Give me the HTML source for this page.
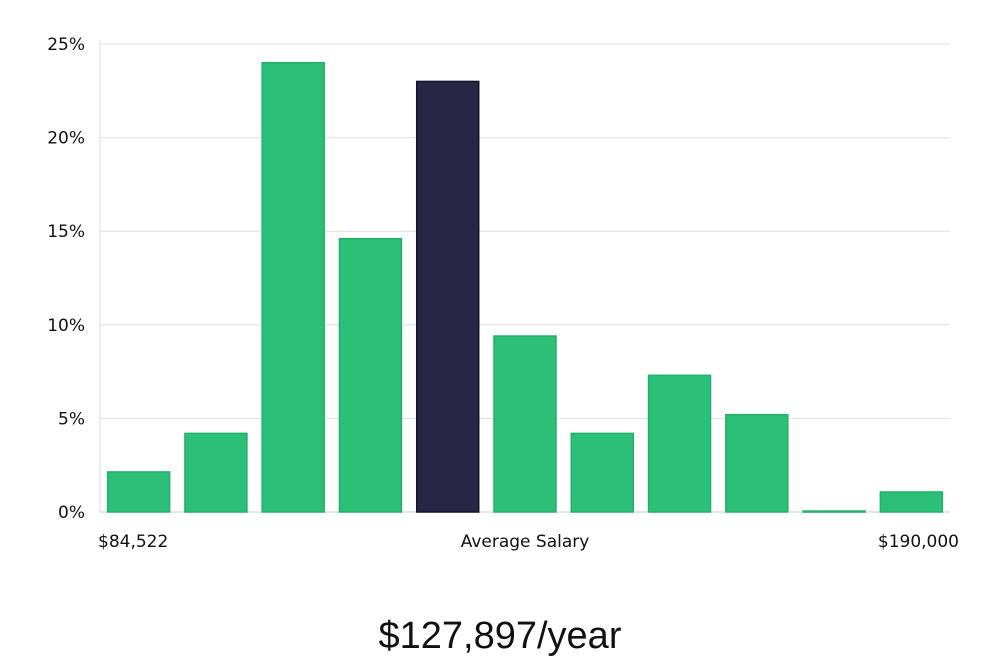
<!DOCTYPE html>
<html><head><meta charset="utf-8"><style>
html,body{margin:0;padding:0;background:#fff;width:1000px;height:660px;overflow:hidden}
svg text{font-family:"DejaVu Sans","Liberation Sans",sans-serif;fill:#111}
</style></head><body>
<svg id="chart" width="1000" height="660" viewBox="0 0 1000 660" xmlns="http://www.w3.org/2000/svg">
<g id="grid"></g><g id="bars"></g><g id="labels"></g>
<text x="98" y="547" font-size="17">$84,522</text>
<text x="525" y="547" font-size="17" text-anchor="middle">Average Salary</text>
<text x="959" y="547" font-size="17" text-anchor="end">$190,000</text>
<text x="500" y="648" font-size="38" text-anchor="middle" style="font-family:'Liberation Sans',sans-serif;font-weight:300">$127,897/year</text>
</svg>
<script>
const values = [2.14, 4.2, 24.0, 14.6, 23.0, 9.4, 4.2, 7.3, 5.2, 0.05, 1.07];
const highlight = [false, false, false, false, true, false, false, false, false, false, false];
const ticks = [0, 5, 10, 15, 20, 25];
const tickLabels = ["0%", "5%", "10%", "15%", "20%", "25%"];
const NS = "http://www.w3.org/2000/svg";
const x0 = 100, x1 = 950, y0 = 512, yTop = 44, maxV = 25;
const band = (x1 - x0) / values.length;
const y = v => y0 - (v / maxV) * (y0 - yTop);
const xb = i => x0 + i * band;
const grid = document.getElementById('grid');
const axis = document.createElementNS(NS, 'line');


axis.setAttribute('x1', x0); axis.setAttribute('x2', x0);
axis.setAttribute('y1', yTop - 4); axis.setAttribute('y2', y0);
axis.setAttribute('stroke', '#ddd');
grid.appendChild(axis);
ticks.forEach((t, i) => {
  const l = document.createElementNS(NS, 'line');
  
  
  l.setAttribute('x1', x0); l.setAttribute('x2', x1);
  l.setAttribute('y1', y(t)); l.setAttribute('y2', y(t));
  l.setAttribute('stroke', t === 0 ? '#ccc' : '#e0e0e0');
  grid.appendChild(l);
  const tx = document.createElementNS(NS, 'text');
  
  
  tx.setAttribute('x', 85); tx.setAttribute('y', y(t) + 6);
  tx.setAttribute('text-anchor', 'end'); tx.setAttribute('font-size', '17');
  tx.textContent = tickLabels[i];
  grid.appendChild(tx);
});
const bars = document.getElementById('bars');
values.forEach((v, i) => {
  const r = document.createElementNS(NS, 'rect');
  
  
  const w = 62;
  r.setAttribute('x', xb(i) + (band - w) / 2);
  r.setAttribute('y', y(v));
  r.setAttribute('width', w);
  r.setAttribute('height', Math.max(1, y0 - y(v)));
  r.setAttribute('fill', highlight[i] ? '#282545' : '#2bbf77');
  r.setAttribute('stroke', highlight[i] ? '#15132b' : '#22b06c');
  r.setAttribute('stroke-width', '1.5');
  bars.appendChild(r);
});
</script>
</body></html>
